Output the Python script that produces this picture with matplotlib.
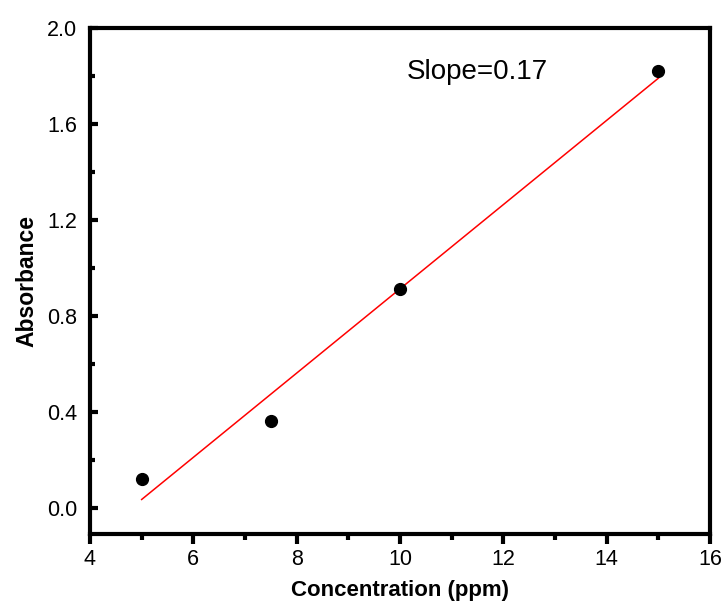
import numpy as np
import matplotlib
matplotlib.use('Agg')
import matplotlib.pyplot as plt
from matplotlib.ticker import MultipleLocator

# datos
conc = [5, 7.5, 10, 15]
absorb = [0.12, 0.36, 0.91, 1.82]

plt.rcParams['font.family'] = ['Liberation Sans', 'DejaVu Sans']

fig = plt.figure(figsize=(7.21, 6.03), dpi=100)
ax = fig.add_axes([0.1248, 0.1144, 0.86, 0.8392])

# regresion lineal
a, b = np.polyfit(conc, absorb, 1)
xx = np.array([min(conc), max(conc)])
ax.plot(xx, a*xx + b, c='red', lw=1.1, zorder=2)

ax.plot(conc, absorb, 'o', c='black', ms=8.5, zorder=3)

ax.text(407/721, 1 - 72/603, 'Slope=0.17', fontsize=20,
        transform=fig.transFigure, va='center', ha='left')

ax.set_xlim(4, 16)
ax.set_ylim(-0.11, 2.0)
ax.xaxis.set_major_locator(MultipleLocator(2))
ax.xaxis.set_minor_locator(MultipleLocator(1))
ax.yaxis.set_major_locator(MultipleLocator(0.4))
ax.yaxis.set_minor_locator(MultipleLocator(0.2))
ax.yaxis.set_major_formatter(matplotlib.ticker.FormatStrFormatter('%.1f'))

for s in ax.spines.values():
    s.set_linewidth(3)

ax.tick_params(axis='x', which='major', direction='out', length=7, width=3,
               labelsize=15.5, pad=4)
ax.tick_params(axis='x', which='minor', direction='out', length=4, width=3)
ax.tick_params(axis='y', which='major', direction='in', length=6, width=3,
               labelsize=15.5, pad=9)
ax.tick_params(axis='y', which='minor', direction='in', length=3.5, width=3)

ax.set_xlabel('Concentration (ppm)', fontsize=16, fontweight='bold', labelpad=7)
ax.set_ylabel('Absorbance', fontsize=16.5, fontweight='bold', labelpad=6)

plt.savefig('out.png', dpi=100)
